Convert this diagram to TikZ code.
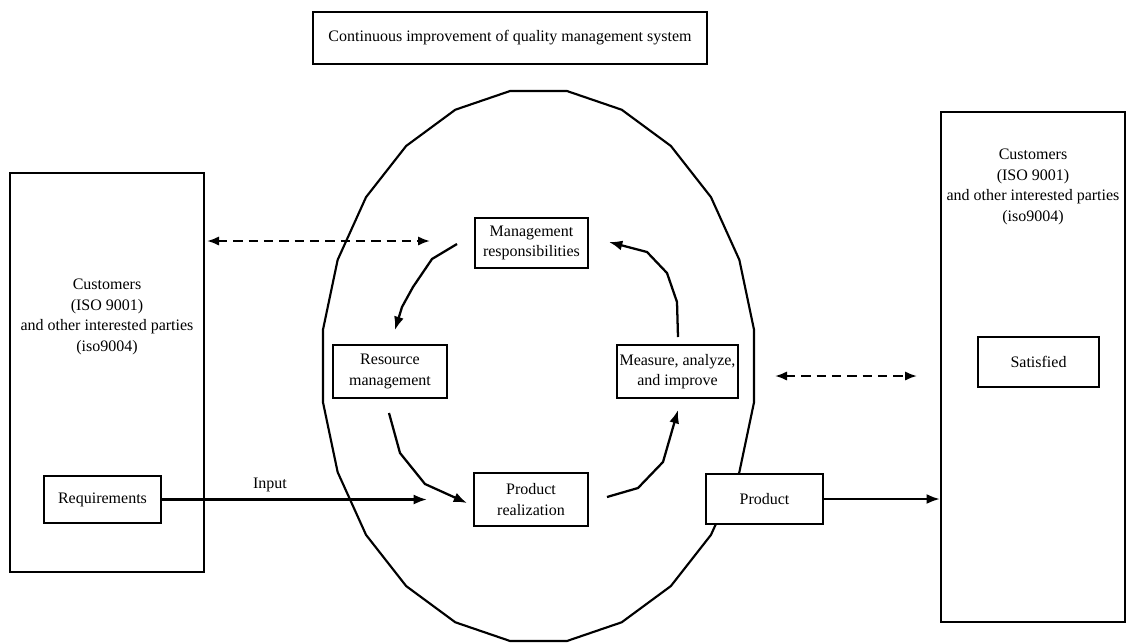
\documentclass[tikz,border=0pt]{standalone}
\usepackage{fontspec}
\setmainfont{Liberation Serif}
\usetikzlibrary{arrows.meta,calc}
\tikzset{
  base/.style={font=\fontsize{12}{15.5}\selectfont, align=center, inner sep=0pt},
  box/.style={base, draw, line width=1.7pt, fill=white},
  arr/.style={line width=1.7pt, -{Latex[length=10pt,width=7.5pt]}},
  darr/.style={line width=1.6pt, dash pattern=on 7pt off 4.5pt, {Latex[length=9pt,width=7pt]}-{Latex[length=9pt,width=7pt]}},
  ring/.style={line width=1.6pt, line join=round}
}
\begin{document}
\begin{tikzpicture}[x=0.75pt,y=-0.75pt]
\useasboundingbox (0,0) rectangle (1127,643);

% outer ellipse (polygonal)
\draw[ring] plot[domain=7.5:367.5, samples=25] ({538.5+217.4*cos(\x)}, {366+277.4*sin(\x)}) -- cycle;

% title
\node[box, minimum width=394*0.75pt, minimum height=52*0.75pt] (title) at (510,38) {Continuous improvement of quality management system};

% left customers box
\node[box, minimum width=194*0.75pt, minimum height=399*0.75pt] (lbox) at (107,372.5) {};
\node[base] (ltext) at (107,317) {Customers\\(ISO 9001)\\and other interested parties\\(iso9004)};
\node[box, minimum width=117*0.75pt, minimum height=47*0.75pt] (req) at (102.5,499.5) {Requirements};

% right customers box
\node[box, minimum width=184*0.75pt, minimum height=510*0.75pt] (rbox) at (1033,367) {};
\node[base] (rtext) at (1033,187) {Customers\\(ISO 9001)\\and other interested parties\\(iso9004)};
\node[box, minimum width=121*0.75pt, minimum height=50*0.75pt] (sat) at (1038.5,362) {Satisfied};

% process boxes
\node[box, minimum width=113*0.75pt, minimum height=50*0.75pt] (mr) at (531.5,243) {Management\\responsibilities};
\node[box, minimum width=114*0.75pt, minimum height=53*0.75pt] (rm) at (390,371.5) {Resource\\management};
\node[box, minimum width=121*0.75pt, minimum height=53*0.75pt] (mai) at (677.5,371.5) {Measure, analyze,\\and improve};
\node[box, minimum width=114*0.75pt, minimum height=53*0.75pt] (pr) at (531,499.5) {Product\\realization};
\node[box, minimum width=117*0.75pt, minimum height=50*0.75pt] (prod) at (764.5,499) {Product};

% free ends
\coordinate (dA) at (207,241);
\coordinate (dB) at (430,241);
\coordinate (dC) at (775,376);
\coordinate (dD) at (917,376);
\coordinate (inTip) at (427,499.5);
\coordinate (a1s) at (457,244);
\coordinate (a1e) at (395,330);
\coordinate (a2s) at (389,413);
\coordinate (a2e) at (467,503);
\coordinate (a3s) at (607,497);
\coordinate (a3e) at (678,410);
\coordinate (a4s) at (678,337);
\coordinate (a4e) at (609,242);

% dashed double arrows
\draw[darr] (dA) -- (dB);
\draw[darr] (dC) -- (dD);

% input and output
\draw[arr] (req.east) -- (inTip);
\node[base] (inlab) at (270,485) {Input};
\draw[arr] (prod.east) -- (prod.east -| rbox.west);

% cycle arrows
\draw[arr] (a1s) -- (432,259) -- (413,287) -- (402,307) -- (a1e);
\draw[arr] (a2s) -- (400,453) -- (425,484) -- (a2e);
\draw[arr] (a3s) -- (638,488) -- (663,462) -- (a3e);
\draw[arr] (a4s) -- (677,302) -- (667,273) -- (647,252) -- (a4e);
\end{tikzpicture}
\end{document}
